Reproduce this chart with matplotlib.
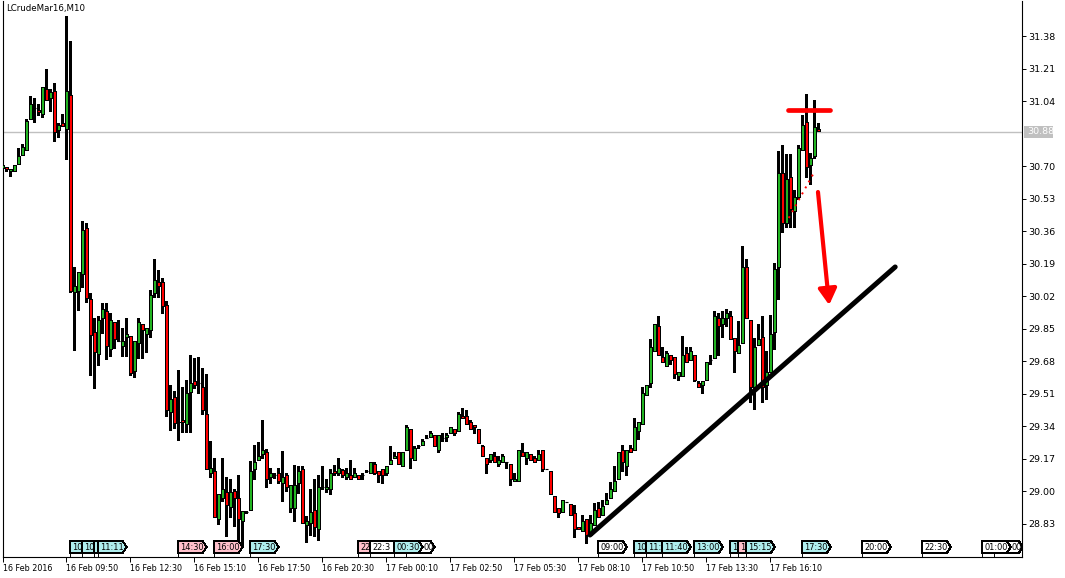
import matplotlib
matplotlib.use("Agg")
import matplotlib.pyplot as plt
from matplotlib.patches import Rectangle, Polygon
from matplotlib.transforms import blended_transform_factory

symbol = "LCrudeMar16,M10"
first_bar = -1  # index of the first (partly hidden) bar

# M10 bars, ten bars per row
opens = [
    30.691, 30.696, 30.676, 30.676, 30.712, 30.760, 30.786, 30.948, 31.005, 30.995,
    30.974, 31.105, 31.057, 31.094, 30.890, 30.926, 30.895, 31.073, 30.043, 30.048,
    30.137, 30.377, 30.006, 29.834, 29.719, 29.907, 29.944, 29.745, 29.886, 29.787,
    29.761, 29.807, 29.813, 29.630, 29.776, 29.875, 29.823, 29.844, 30.037, 30.096,
    30.096, 29.975, 29.416, 29.493, 29.363, 29.373, 29.352, 29.520, 29.578, 29.567,
    29.546, 29.405, 29.096, 29.107, 28.856, 28.965, 28.997, 28.918, 29.002, 28.965,
    28.845, 28.893, 28.903, 29.117, 29.164, 29.196, 29.207, 29.075, 29.086, 29.096,
    29.044, 29.086, 28.913, 28.913, 29.044, 29.117, 28.824, 28.835, 28.903, 28.803,
    29.023, 29.013, 29.013, 29.107, 29.096, 29.112, 29.075, 29.086, 29.075, 29.086,
    29.086, 29.107, 29.096, 29.143, 29.107, 29.117, 29.096, 29.143, 29.175, 29.207,
    29.133, 29.217, 29.326, 29.164, 29.237, 29.243, 29.279, 29.284, 29.295, 29.217,
    29.279, 29.284, 29.305, 29.326, 29.316, 29.394, 29.394, 29.363, 29.347, 29.326,
    29.237, 29.175, 29.164, 29.186, 29.143, 29.154, 29.154, 29.143, 29.055, 29.055,
    29.207, 29.175, 29.196, 29.175, 29.164, 29.217, 29.117, 29.107, 28.976, 28.913,
    28.893, 28.945, 28.934, 28.887, 28.814, 28.793, 28.856, 28.772, 28.824, 28.913,
    28.877, 28.934, 28.965, 29.002, 29.065, 29.217, 29.133, 29.227, 29.217, 29.316,
    29.352, 29.504, 29.567, 29.735, 29.865, 29.703, 29.656, 29.714, 29.703, 29.604,
    29.604, 29.724, 29.687, 29.714, 29.567, 29.557, 29.583, 29.687, 29.698, 29.907,
    29.875, 29.907, 29.918, 29.802, 29.724, 29.776, 30.173, 29.896, 29.546, 29.766,
    29.807, 29.557, 29.625, 29.834, 30.173, 30.665, 30.404, 30.644, 30.467, 30.540,
    30.786, 30.932, 30.707, 30.755, 30.895,
]
highs = [
    30.739, 30.696, 30.686, 30.707, 30.796, 30.817, 30.948, 31.068, 31.057, 31.026,
    31.115, 31.209, 31.105, 31.136, 30.926, 30.974, 31.487, 31.356, 30.173, 30.148,
    30.414, 30.403, 30.037, 29.907, 29.918, 29.985, 29.985, 29.933, 29.886, 29.896,
    29.854, 29.907, 29.813, 29.787, 29.907, 29.875, 29.854, 30.053, 30.216, 30.158,
    30.116, 29.996, 29.557, 29.525, 29.635, 29.546, 29.583, 29.714, 29.698, 29.703,
    29.645, 29.614, 29.264, 29.175, 28.986, 29.175, 29.075, 29.065, 29.013, 29.086,
    28.898, 28.898, 29.159, 29.243, 29.259, 29.373, 29.222, 29.122, 29.096, 29.122,
    29.212, 29.096, 29.034, 29.138, 29.133, 29.133, 28.872, 29.013, 29.065, 29.086,
    29.133, 29.065, 29.117, 29.138, 29.175, 29.117, 29.122, 29.164, 29.122, 29.086,
    29.096, 29.112, 29.154, 29.154, 29.107, 29.117, 29.133, 29.237, 29.207, 29.207,
    29.207, 29.347, 29.326, 29.237, 29.243, 29.274, 29.295, 29.316, 29.295, 29.295,
    29.305, 29.305, 29.336, 29.326, 29.416, 29.436, 29.426, 29.373, 29.347, 29.326,
    29.243, 29.175, 29.196, 29.207, 29.186, 29.196, 29.154, 29.143, 29.096, 29.217,
    29.253, 29.207, 29.196, 29.186, 29.217, 29.217, 29.117, 29.107, 28.976, 28.913,
    28.955, 28.945, 28.934, 28.929, 28.814, 28.877, 28.856, 28.877, 28.940, 28.945,
    28.955, 28.992, 29.050, 29.133, 29.207, 29.243, 29.217, 29.243, 29.384, 29.363,
    29.546, 29.557, 29.797, 29.875, 29.918, 29.755, 29.735, 29.714, 29.703, 29.625,
    29.813, 29.755, 29.755, 29.714, 29.578, 29.578, 29.677, 29.714, 29.944, 29.933,
    29.944, 29.954, 29.944, 29.802, 29.891, 30.283, 30.215, 29.896, 29.802, 29.875,
    29.918, 29.735, 29.923, 30.194, 30.780, 30.812, 30.765, 30.765, 30.576, 30.812,
    30.969, 31.078, 30.770, 31.047, 30.926,
]
lows = [
    30.671, 30.676, 30.650, 30.676, 30.712, 30.760, 30.786, 30.948, 30.932, 30.969,
    30.958, 31.047, 30.990, 30.833, 30.853, 30.911, 30.739, 30.043, 29.740, 29.949,
    30.069, 29.991, 29.609, 29.541, 29.661, 29.828, 29.693, 29.709, 29.750, 29.787,
    29.709, 29.709, 29.609, 29.598, 29.698, 29.698, 29.730, 29.807, 30.016, 30.016,
    29.933, 29.395, 29.321, 29.331, 29.269, 29.311, 29.311, 29.311, 29.541, 29.514,
    29.405, 29.117, 29.075, 28.866, 28.829, 28.950, 28.767, 28.866, 28.819, 28.746,
    28.720, 28.887, 28.903, 29.065, 29.164, 29.175, 29.023, 29.044, 29.070, 29.044,
    28.950, 29.002, 28.893, 28.845, 28.992, 28.835, 28.736, 28.772, 28.767, 28.746,
    29.013, 28.997, 28.986, 29.086, 29.086, 29.075, 29.065, 29.065, 29.075, 29.065,
    29.065, 29.101, 29.096, 29.091, 29.050, 29.044, 29.086, 29.143, 29.175, 29.143,
    29.133, 29.217, 29.122, 29.164, 29.227, 29.243, 29.279, 29.284, 29.237, 29.207,
    29.264, 29.264, 29.305, 29.295, 29.316, 29.384, 29.352, 29.326, 29.305, 29.253,
    29.186, 29.096, 29.154, 29.154, 29.133, 29.154, 29.122, 29.034, 29.055, 29.055,
    29.186, 29.143, 29.164, 29.154, 29.164, 29.107, 29.117, 28.986, 28.893, 28.866,
    28.893, 28.945, 28.877, 28.762, 28.803, 28.793, 28.731, 28.772, 28.824, 28.866,
    28.877, 28.934, 28.965, 29.002, 29.065, 29.107, 29.086, 29.207, 29.217, 29.274,
    29.352, 29.504, 29.546, 29.735, 29.714, 29.677, 29.656, 29.667, 29.593, 29.583,
    29.604, 29.677, 29.687, 29.578, 29.546, 29.514, 29.583, 29.667, 29.698, 29.714,
    29.807, 29.865, 29.797, 29.625, 29.724, 29.776, 29.907, 29.468, 29.431, 29.766,
    29.468, 29.483, 29.625, 29.745, 30.006, 30.357, 30.383, 30.383, 30.383, 30.529,
    30.786, 30.644, 30.608, 30.744, 30.885,
]
closes = [
    30.707, 30.686, 30.686, 30.707, 30.755, 30.801, 30.937, 31.026, 31.005, 30.985,
    31.115, 31.047, 31.089, 30.880, 30.916, 30.911, 31.094, 30.048, 30.075, 30.148,
    30.367, 30.011, 29.818, 29.730, 29.896, 29.954, 29.761, 29.896, 29.797, 29.787,
    29.787, 29.823, 29.619, 29.787, 29.886, 29.844, 29.854, 30.027, 30.106, 30.075,
    29.970, 29.426, 29.483, 29.357, 29.365, 29.363, 29.514, 29.567, 29.557, 29.567,
    29.426, 29.117, 29.122, 28.866, 28.986, 29.013, 28.929, 28.997, 28.965, 28.856,
    28.898, 28.893, 29.107, 29.154, 29.186, 29.217, 29.065, 29.096, 29.086, 29.055,
    29.075, 29.023, 29.034, 29.034, 29.107, 28.835, 28.845, 28.893, 28.814, 29.023,
    29.023, 29.023, 29.096, 29.096, 29.122, 29.086, 29.096, 29.065, 29.096, 29.065,
    29.086, 29.107, 29.154, 29.096, 29.086, 29.086, 29.133, 29.164, 29.186, 29.143,
    29.207, 29.336, 29.175, 29.227, 29.237, 29.264, 29.279, 29.305, 29.237, 29.295,
    29.279, 29.295, 29.336, 29.305, 29.405, 29.384, 29.352, 29.326, 29.336, 29.253,
    29.186, 29.143, 29.196, 29.154, 29.164, 29.186, 29.154, 29.065, 29.065, 29.217,
    29.186, 29.207, 29.164, 29.154, 29.196, 29.117, 29.117, 28.986, 28.893, 28.887,
    28.955, 28.945, 28.877, 28.803, 28.803, 28.845, 28.772, 28.835, 28.903, 28.866,
    28.924, 28.955, 29.013, 29.055, 29.207, 29.154, 29.217, 29.207, 29.336, 29.363,
    29.514, 29.557, 29.755, 29.875, 29.714, 29.677, 29.724, 29.687, 29.614, 29.625,
    29.714, 29.677, 29.735, 29.583, 29.546, 29.578, 29.677, 29.687, 29.918, 29.865,
    29.907, 29.933, 29.797, 29.735, 29.766, 30.173, 29.907, 29.546, 29.755, 29.797,
    29.546, 29.625, 29.823, 30.163, 30.665, 30.404, 30.634, 30.477, 30.540, 30.796,
    30.916, 30.697, 30.744, 30.906, 30.885,
]

price_ticks = [31.38, 31.21, 31.04, 30.70, 30.53, 30.36, 30.19, 30.02,
               29.85, 29.68, 29.51, 29.34, 29.17, 29.00, 28.83]
last_price = 30.88

start_label = "16 Feb 2016"
time_ticks = [15, 31, 47, 63, 79, 95, 111, 127, 143, 159, 175, 191]
time_labels = ["16 Feb 09:50", "16 Feb 12:30", "16 Feb 15:10", "16 Feb 17:50",
               "16 Feb 20:30", "17 Feb 00:10", "17 Feb 02:50", "17 Feb 05:30",
               "17 Feb 08:10", "17 Feb 10:50", "17 Feb 13:30", "17 Feb 16:10"]

# calendar events along the bottom (drawn in this order), visible text only
event_bars = [16, 19, 22, 23, 43, 52, 61, 88, 91, 100, 97, 148, 157, 160, 164,
              172, 181, 183, 185, 199, 214, 229, 247, 244]
event_texts = ["10", "10", "", "11:11", "14:30", "16:00", "17:30",
               "22", "22:3", "00", "00:30", "09:00", "10", "11:",
               "11:40", "13:00", "1", "1", "15:15", "17:30", "20:00",
               "22:30", "00", "01:00"]
event_kinds = ["c", "c", "c", "c", "p", "p", "c", "p", "w", "w", "c", "w", "c",
               "c", "c", "c", "c", "p", "c", "c", "w", "w", "w", "w"]

# hand drawn objects
trend_bars = [145.9, 222.2]
trend_prices = [28.772, 30.174]
resist_bars = [195.4, 205.9]
resist_price = 30.995
dotted_bars = [195.6, 201.7]
dotted_prices = [30.43, 30.66]
arrow_from = (202.9, 30.566)
arrow_to = (205.7, 29.975)

GREEN = "#22b422"
RED = "#ff0000"
box_fill = {"c": "#afeeee", "p": "#ffc0cb", "w": "white"}

fig = plt.figure(figsize=(10.65, 5.78), dpi=100)
ax = fig.add_axes([3 / 1065, 21 / 578, 1019 / 1065, 556 / 578])
ax.set_xlim(-0.825, 253.9)
ax.set_ylim(28.657, 31.565)

# current price line
ax.axhline(last_price, color="#c0c0c0", lw=1.0, zorder=1)

# candles
xs = [first_bar + i for i in range(len(opens))]
ax.vlines(xs, lows, highs, color="black", lw=0.8, zorder=2, antialiased=False)
for x, o, c in zip(xs, opens, closes):
    if c == o:
        ax.hlines(o, x - 0.4, x + 0.4, color="black", lw=0.8, zorder=3)
        continue
    ax.add_patch(Rectangle((x - 0.31, min(o, c)), 0.62, abs(c - o),
                           facecolor=GREEN if c > o else RED, edgecolor="black",
                           lw=0.7, zorder=3, antialiased=False))

# trend line, resistance, dotted line, arrow
ax.plot(trend_bars, trend_prices, color="black", lw=3.6, solid_capstyle="round", zorder=5)
ax.plot(resist_bars, [resist_price, resist_price], color=RED, lw=3.4,
        solid_capstyle="round", zorder=5)
ax.plot(dotted_bars, dotted_prices, color=RED, lw=1.4, linestyle=(0, (1, 2.5)), zorder=5)
ax.annotate("", xy=arrow_to, xytext=arrow_from, zorder=5,
            arrowprops=dict(arrowstyle="-|>,head_width=0.55,head_length=0.95",
                            mutation_scale=10, color=RED, lw=3,
                            shrinkA=0, shrinkB=0))

# event markers
bt = blended_transform_factory(ax.transData, ax.transAxes)
y0, y1 = 4 / 556, 16 / 556
box_w, tip = 6.1, 1.0
for n, (b, txt, kind) in enumerate(zip(event_bars, event_texts, event_kinds)):
    z = 6 + n
    pts = [(b, y0), (b + box_w, y0), (b + box_w + tip, (y0 + y1) / 2),
           (b + box_w, y1), (b, y1)]
    ax.add_patch(Polygon(pts, closed=True, transform=bt, facecolor=box_fill[kind],
                         edgecolor="black", lw=0.7, zorder=z, antialiased=False))
    ax.plot([b, b], [0, y0], transform=bt, color="black", lw=0.7, zorder=z)
    # text starts after any box drawn later that covers this one's left part
    tx = b + 0.45
    for m in range(n + 1, len(event_bars)):
        bm = event_bars[m]
        if bm <= b < bm + box_w + tip:
            tx = bm + box_w + tip + 0.3
    ax.text(tx, (y0 + y1) / 2 - 0.001, txt, transform=bt, fontsize=5.9,
            family="DejaVu Sans", ha="left", va="center", zorder=z + 0.5, clip_on=True)

# axes look
for side in ["left", "bottom", "right"]:
    ax.spines[side].set_linewidth(0.8)
ax.spines["top"].set_visible(False)

ax.yaxis.tick_right()
ax.set_yticks(price_ticks)
ax.set_yticklabels([f"{p:.2f}" for p in price_ticks],
                   family=["Liberation Sans Narrow", "DejaVu Sans"])
ax.tick_params(axis="y", direction="out", length=3, width=0.7, pad=1.5, labelsize=6.8)

ax.set_xticks([-0.825] + time_ticks)
ax.set_xticklabels([start_label] + time_labels, family="DejaVu Sans")
for lbl in ax.get_xticklabels():
    lbl.set_ha("left")
ax.tick_params(axis="x", direction="out", length=3.6, width=0.7, pad=1.5, labelsize=5.8)

# current price tag on the price scale
tag = blended_transform_factory(ax.transAxes, ax.transData)
ax.add_patch(Rectangle((1.002, last_price - 0.031), 0.0285, 0.062, transform=tag,
                       facecolor="#c0c0c0", edgecolor="none", clip_on=False, zorder=10))
ax.text(1.0055, last_price, f"{last_price:.2f}", transform=tag, color="white",
        fontsize=6.8, family=["Liberation Sans Narrow", "DejaVu Sans"],
        ha="left", va="center", zorder=11, clip_on=False)

fig.text(6 / 1065, 1 - 9 / 578, symbol, fontsize=6.2, family="DejaVu Sans",
         ha="left", va="center")

fig.savefig("out.png", dpi=100)
